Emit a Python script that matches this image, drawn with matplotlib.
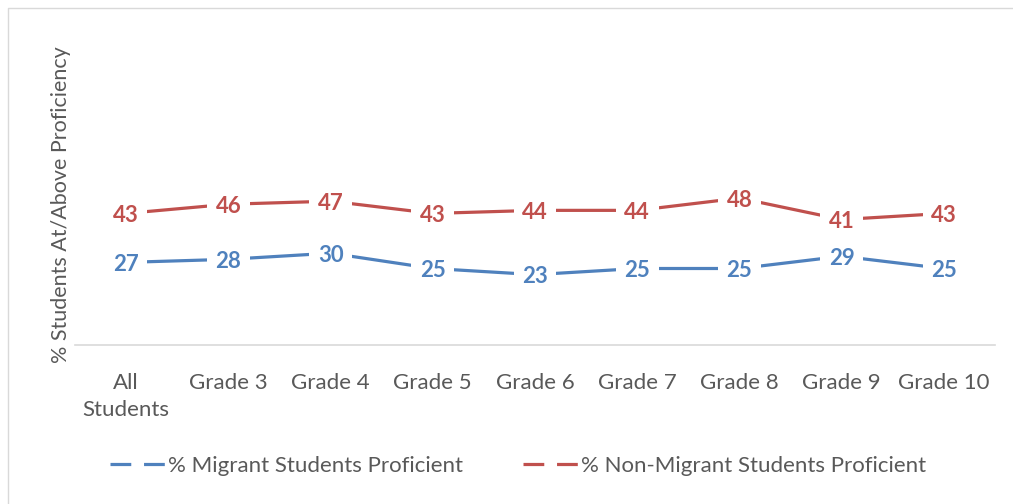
import matplotlib
matplotlib.use('Agg')
import matplotlib.pyplot as plt
from matplotlib.lines import Line2D

categories = ['All\nStudents', 'Grade 3', 'Grade 4', 'Grade 5', 'Grade 6',
              'Grade 7', 'Grade 8', 'Grade 9', 'Grade 10']
migrant = [27, 28, 30, 25, 23, 25, 25, 29, 25]
non_migrant = [43, 46, 47, 43, 44, 44, 48, 41, 43]
series_names = ['% Migrant Students Proficient', '% Non-Migrant Students Proficient']

blue = '#4F81BD'
red = '#C0504D'
grey = '#595959'

plt.rcParams['font.family'] = ['Lato', 'DejaVu Sans']

fig = plt.figure(figsize=(10.13, 5.04), dpi=100)
# plot area: x 75..995 px, y 39..345 px
ax = fig.add_axes([75 / 1013, 1 - 345 / 504, 920 / 1013, 306 / 504])

x = list(range(len(categories)))
for vals, col in [(migrant, blue), (non_migrant, red)]:
    ax.plot(x, vals, color=col, lw=2.3, solid_capstyle='butt', zorder=2)
    for xi, v in zip(x, vals):
        ax.text(xi, v, str(v), ha='center', va='center_baseline', color=col,
                fontsize=16, fontweight='bold', zorder=3,
                bbox=dict(boxstyle='square,pad=0.38', fc='white', ec='none'))

ax.set_xlim(-0.5, len(categories) - 0.5)
ax.set_ylim(0, 100)
ax.set_xticks(x)
ax.set_xticklabels(categories, fontsize=16, color=grey, linespacing=1.45)
ax.set_yticks([])
ax.tick_params(axis='x', length=0, pad=20)
for s in ['top', 'right', 'left']:
    ax.spines[s].set_visible(False)
ax.spines['bottom'].set_color('#D9D9D9')
ax.spines['bottom'].set_linewidth(1.2)
ax.set_ylabel('% Students At/Above Proficiency', fontsize=15.5, color=grey)
ax.yaxis.set_label_coords(-0.004, (345 - 205) / 306)

handles = [Line2D([], [], color=blue, lw=2.3, linestyle=(0, (6.5, 4))),
           Line2D([], [], color=red, lw=2.3, linestyle=(0, (6.5, 4)))]
fig.legend(handles, series_names, loc='center', bbox_to_anchor=(518 / 1013, 1 - 466 / 504),
           ncol=2, frameon=False, fontsize=16, labelcolor=grey,
           handlelength=2.5, handletextpad=0.1, columnspacing=2.7)

# chart frame: only the left and top edges are visible in the crop
fig.add_artist(Line2D([8 / 1013, 8 / 1013, 1], [0, 1 - 8 / 504, 1 - 8 / 504],
                      transform=fig.transFigure, color='#D9D9D9', lw=1))

fig.savefig('out.png', dpi=100)
